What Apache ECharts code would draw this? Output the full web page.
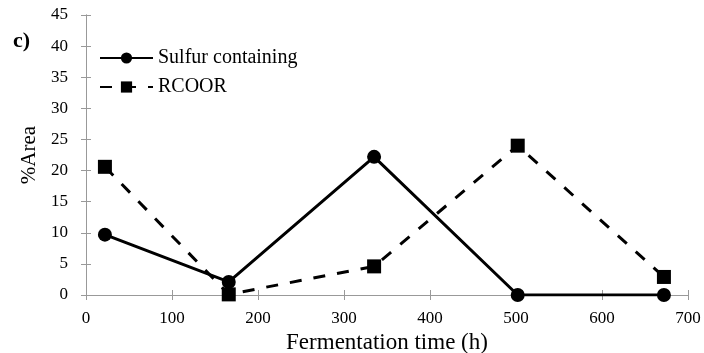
<!DOCTYPE html>
<html>
<head>
<meta charset="utf-8">
<script src="https://cdn.jsdelivr.net/npm/echarts@6/dist/echarts.min.js"></script>
<style>
  html, body { margin: 0; padding: 0; background: #fff; }
  #chart { width: 704px; height: 353px; }
</style>
</head>
<body>
<div id="chart"></div>
<script>
// data
const hours = [22, 166, 335, 502, 672]
const sulfur = [9.7, 2.1, 22.2, 0, 0]
const rcoor = [20.6, 0.1, 4.6, 24.0, 2.9]
const seriesNames = ['Sulfur containing', 'RCOOR']

const font = 'Liberation Serif'
const axisGray = '#999'

const pairs = (xs, ys) => xs.map((x, i) => [x, ys[i]])

const chart = echarts.init(document.getElementById('chart'))

// inside ticks on every side of the box
const tick = { show: true, inside: true, length: 5, lineStyle: { color: axisGray } }
const line = { show: true, lineStyle: { color: axisGray } }

const option = {
  animation: false,
  textStyle: { fontFamily: font, color: '#000' },
  grid: { left: 86, right: 16, top: 15, bottom: 58, show: false, outerBoundsMode: 'none' },
  graphic: [{
    type: 'text', left: 13, top: 30,
    style: { text: 'c)', font: 'bold 22px "Liberation Serif"', fill: '#000' }
  }],
  legend: {
    left: 99, top: 48, padding: 0, orient: 'vertical', itemGap: 9,
    itemWidth: 53, itemHeight: 14,
    textStyle: { fontFamily: font, fontSize: 20, color: '#000' },
    data: seriesNames
  },
  xAxis: [{
    type: 'value', min: 0, max: 700, interval: 100,
    name: 'Fermentation time (h)', nameLocation: 'middle', nameGap: 30,
    nameTextStyle: { fontFamily: font, fontSize: 23, color: '#000' },
    axisLine: line, axisTick: tick,
    axisLabel: { fontFamily: font, fontSize: 17, color: '#000', margin: 15 },
    splitLine: { show: false }
  }, {
    type: 'value', position: 'top', min: 0, max: 700, interval: 100,
    axisLine: line, axisTick: tick,
    axisLabel: { show: false }, splitLine: { show: false }
  }],
  yAxis: [{
    type: 'value', min: 0, max: 45, interval: 5,
    name: '%Area', nameLocation: 'middle', nameGap: 43,
    nameTextStyle: { fontFamily: font, fontSize: 21, color: '#000' },
    axisLine: line, axisTick: tick,
    axisLabel: { fontFamily: font, fontSize: 17, color: '#000', margin: 18 },
    splitLine: { show: false }
  }, {
    type: 'value', position: 'right', min: 0, max: 45, interval: 5,
    axisLine: line, axisTick: tick,
    axisLabel: { show: false }, splitLine: { show: false }
  }],
  series: [{
    name: seriesNames[0], type: 'line',
    data: pairs(hours, sulfur),
    symbol: 'circle', symbolSize: 14,
    itemStyle: { color: '#000' },
    lineStyle: { color: '#000', width: 3, type: 'solid' }
  }, {
    name: seriesNames[1], type: 'line',
    data: pairs(hours, rcoor),
    symbol: 'rect', symbolSize: 14,
    itemStyle: { color: '#000' },
    lineStyle: { color: '#000', width: 3, type: [12, 12] }
  }]
}

chart.setOption(option)
</script>
</body>
</html>
